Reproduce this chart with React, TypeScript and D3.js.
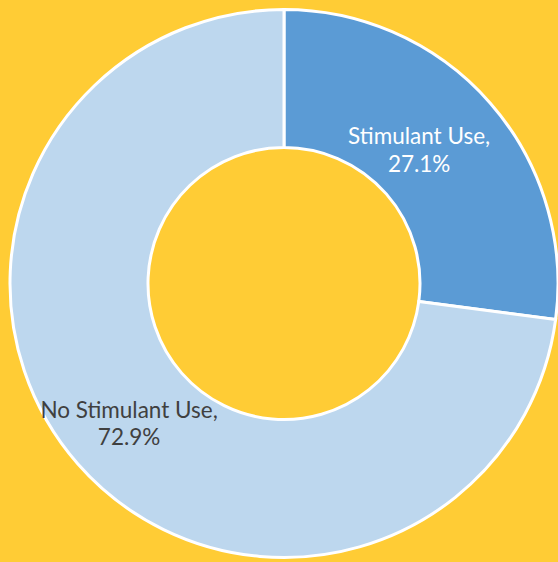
import React from "react";
import * as d3 from "d3";

const categories = ["Stimulant Use", "No Stimulant Use"];
const values = [27.1, 72.9];
const colors = ["#5B9BD5", "#BDD7EE"];
const labelColors = ["#FFFFFF", "#404040"];

const W = 558;
const H = 562;
const cx = 284;
const cy = 283.5;
const outerR = 274;
const innerR = 136;
// label placement (radius, angle offset in radians)
const labelR = [190, 208.5];
const labelDA = [-0.06, -0.014];

export default function App() {
  const pie = d3.pie<number>().sort(null).value((d) => d);
  const arcs = pie(values);
  const arc = d3.arc<d3.PieArcDatum<number>>().innerRadius(innerR).outerRadius(outerR);
  return (
    <svg width={W} height={H} style={{ position: "absolute", left: 0, top: 0 }}>
      <rect width={W} height={H} fill="#FFCC35" />
      <g transform={`translate(${cx},${cy})`}>
        {arcs.map((a, i) => (
          <path key={i} d={arc(a) || ""} fill={colors[i]} stroke="#fff" strokeWidth={3} strokeLinejoin="miter" />
        ))}
        {arcs.map((a, i) => {
          const mid = (a.startAngle + a.endAngle) / 2 + labelDA[i];
          const x = Math.sin(mid) * labelR[i];
          const y = -Math.cos(mid) * labelR[i];
          return (
            <text key={i} x={x} y={y} textAnchor="middle" fill={labelColors[i]} fontFamily="Lato, 'Open Sans', sans-serif" fontSize={22.5}>
              <tspan x={x} dy={-5.5}>{categories[i]},</tspan>
              <tspan x={x} dy={27.5}>{d3.format(".1f")(values[i])}%</tspan>
            </text>
          );
        })}
      </g>
    </svg>
  );
}
